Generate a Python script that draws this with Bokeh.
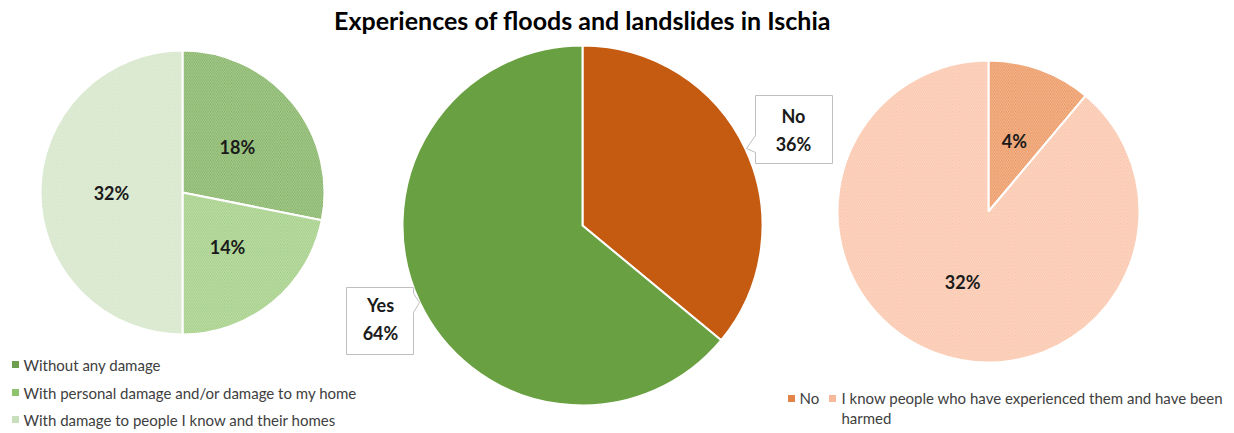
import numpy as np
from bokeh.plotting import figure
from bokeh.models import Range1d, ColumnDataSource
from bokeh.core.properties import value
from bokeh.embed import file_html
from bokeh.resources import INLINE

# ---------------- data ----------------
title = "Experiences of floods and landslides in Ischia"

main_labels = ["No", "Yes"]
main_values = [36, 64]
main_colors = ["#c55a11", "#69a042"]

left_labels = ["Without any damage",
               "With personal damage and/or damage to my home",
               "With damage to people I know and their homes"]
left_values = [18, 14, 32]
left_colors = ["#76ab53", "#98c977", "#d0e3c3"]
left_legend_colors = ["#6e9f50", "#8fc36d", "#c9dfbb"]

right_labels = ["No",
                "I know people who have experienced them and have been\nharmed"]
right_values = [4, 32]
right_colors = ["#ea8c50", "#fabfa2"]
right_legend_colors = ["#e28448", "#f8b89a"]

FONT = "Lato"
W, H = 1234, 433

p = figure(width=W, height=H, output_backend="svg", toolbar_location=None,
           x_range=Range1d(0, W), y_range=Range1d(0, H), min_border=0)
p.axis.visible = False
p.grid.visible = False
p.outline_line_color = None
p.background_fill_color = "white"


def X(px):
    return px


def Y(py):
    return H - py


def pie(cx, cy, r, values, colors, hatch, label_r=0.5, labels=True):
    v = np.array(values, dtype=float)
    frac = v / v.sum()
    cum = np.concatenate([[0], np.cumsum(frac)])
    start = np.pi / 2 - cum[:-1] * 2 * np.pi
    end = np.pi / 2 - cum[1:] * 2 * np.pi
    src = ColumnDataSource(dict(start=start, end=end, color=colors))
    kw = {}
    if hatch:
        kw = dict(hatch_pattern="\\", hatch_color="white", hatch_alpha=0.4,
                  hatch_scale=3.5, hatch_weight=1.0)
    p.wedge(x=cx, y=cy, radius=r, start_angle="start", end_angle="end",
            direction="clock", fill_color="color", line_color="white",
            line_width=2, source=src, **kw)
    if labels:
        mid = (start + end) / 2
        lx = cx + label_r * r * np.cos(mid)
        ly = cy + label_r * r * np.sin(mid)
        txt = [f"{int(x)}%" for x in values]
        p.text(x=lx, y=ly, text=txt, text_align="center", text_baseline="middle",
               text_font=value(FONT), text_font_style="bold",
               text_font_size="18px", text_color="#1a1a1a")
    return start, end


# title
p.text(x=[X(582)], y=[Y(19)], text=[title], text_align="center",
       text_baseline="middle", text_font=value(FONT), text_font_style="bold",
       text_font_size="25px", text_color="#000000")

# left pie
pie(X(182), Y(192), 142, left_values, left_colors, True, 0.5)
# center pie
pie(X(582), Y(225), 180, main_values, main_colors, False, labels=False)
# right pie
pie(X(988), Y(211), 151, right_values, right_colors, True, 0.5)

# callouts
def callout(xs, ys, lines, tx, ty):
    p.patch(x=[X(v) for v in xs], y=[Y(v) for v in ys], fill_color="white",
            line_color="#bfbfbf", line_width=1)
    p.text(x=[X(tx)] * 2, y=[Y(ty), Y(ty + 28)], text=lines,
           text_align="center", text_baseline="middle", text_font=value(FONT),
           text_font_style="bold", text_font_size="18px", text_color="#1a1a1a")


callout([755, 832, 832, 755, 755, 746, 755],
        [95, 95, 163, 163, 152, 148, 135],
        [f"{main_labels[0]}", f"{main_values[0]}%"], 793, 115)
callout([346, 413, 413, 419, 413, 413, 346],
        [287, 287, 293, 302, 312, 354, 354],
        [f"{main_labels[1]}", f"{main_values[1]}%"], 380, 304)

# left legend
ly = [364, 392, 419]
p.rect(x=[X(15)] * 3, y=[Y(v) for v in ly], width=7, height=7,
       fill_color=left_legend_colors, line_color=None)
p.text(x=[X(23)] * 3, y=[Y(v) for v in ly], text=left_labels,
       text_align="left", text_baseline="middle", text_font=value(FONT),
       text_font_size="15px", text_color="#404040")

# right legend
p.rect(x=[X(791), X(832)], y=[Y(398)] * 2, width=7, height=7,
       fill_color=right_legend_colors, line_color=None)
p.text(x=[X(799), X(841)], y=[Y(398)] * 2, text=right_labels,
       text_align="left", text_baseline="top", text_font=value(FONT),
       text_font_size="15px", text_color="#404040", text_line_height=1.15,
       y_offset=-10)

open("out.html", "w").write(file_html(p, INLINE))
